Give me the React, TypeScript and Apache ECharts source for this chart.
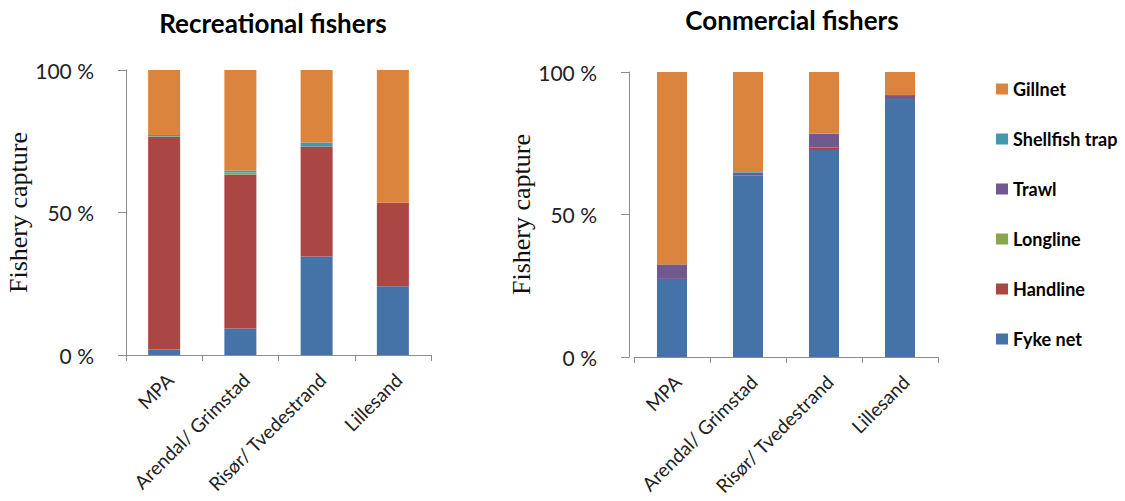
import React, { useEffect, useRef } from "react";
import * as echarts from "echarts";

const categories = ["MPA", "Arendal/ Grimstad", "Risør/ Tvedestrand", "Lillesand"];
const gearTypes = ["Fyke net", "Handline", "Longline", "Trawl", "Shellfish trap", "Gillnet"];
const legendOrder = ["Gillnet", "Shellfish trap", "Trawl", "Longline", "Handline", "Fyke net"];
const gearColors = ["#4572A7", "#AA4643", "#89A54E", "#71588F", "#4198AF", "#DB843D"];

// Recreational fishers (% of capture)
const recFyke = [1.9, 9.3, 34.6, 24.1];
const recHandline = [74.6, 54.0, 38.6, 29.3];
const recLongline = [0.2, 0.7, 0, 0];
const recTrawl = [0, 0, 0, 0];
const recShellfish = [0.5, 0.7, 1.4, 0];
const recGillnet = [22.8, 35.3, 25.4, 46.6];

// Commercial fishers (% of capture)
const comFyke = [27.4, 63.8, 72.6, 90.2];
const comHandline = [0, 0, 0.9, 0];
const comLongline = [0, 0, 0, 0];
const comTrawl = [5.1, 0.9, 4.8, 1.7];
const comShellfish = [0, 0.5, 0, 0];
const comGillnet = [67.5, 34.8, 21.7, 8.1];

const recData = [recFyke, recHandline, recLongline, recTrawl, recShellfish, recGillnet];
const comData = [comFyke, comHandline, comLongline, comTrawl, comShellfish, comGillnet];

const yTickSuffix = " %";

export default function App() {
  const ref = useRef<HTMLDivElement>(null);
  useEffect(() => {
    if (!ref.current) return;
    const chart = echarts.init(ref.current, null, { renderer: "svg" });
    const axisColor = "#8c8c8c";
    const labelFont = "Lato, 'Open Sans', sans-serif";
    const mkX = (gridIndex: number) => ({
      type: "category" as const,
      gridIndex,
      data: categories,
      axisLine: { show: true, lineStyle: { color: axisColor } },
      axisTick: { show: true, alignWithLabel: false, length: 6, lineStyle: { color: axisColor } },
      axisLabel: {
        rotate: 45,
        fontSize: 19,
        color: "#222",
        fontFamily: labelFont,
        margin: 27,
        interval: 0,
        padding: [0, -8, 0, 0],
      },
    });
    const mkY = (gridIndex: number, nameGap: number, offset: number) => ({
      type: "value" as const,
      gridIndex,
      min: 0,
      max: 100,
      interval: 50,
      offset,
      splitLine: { show: false },
      axisLine: { show: true, lineStyle: { color: axisColor } },
      axisTick: { show: true, length: 8, lineStyle: { color: axisColor } },
      axisLabel: {
        formatter: (v: number) => v + yTickSuffix,
        fontSize: 21,
        color: "#222",
        fontFamily: labelFont,
        margin: 32,
      },
      name: "Fishery capture",
      nameLocation: "middle" as const,
      nameRotate: 90,
      nameGap,
      nameTextStyle: { fontFamily: "'Liberation Serif', 'Times New Roman', serif", fontSize: 26, color: "#111" },
    });
    const series: any[] = [];
    gearTypes.forEach((g, i) => {
      series.push({
        name: g,
        type: "bar",
        stack: "rec",
        xAxisIndex: 0,
        yAxisIndex: 0,
        barWidth: 32,
        data: recData[i],
        itemStyle: { color: gearColors[i] },
      });
    });
    gearTypes.forEach((g, i) => {
      series.push({
        name: g,
        type: "bar",
        stack: "com",
        xAxisIndex: 1,
        yAxisIndex: 1,
        barWidth: 30,
        data: comData[i],
        itemStyle: { color: gearColors[i] },
      });
    });
    chart.setOption({
      animation: false,
      title: [
        {
          text: "Recreational fishers",
          left: 273,
          top: 10,
          padding: 0,
          textAlign: "center",
          textStyle: { fontFamily: labelFont, fontSize: 26, fontWeight: "bold", color: "#000" },
        },
        {
          text: "Conmercial fishers",
          left: 792,
          top: 7,
          padding: 0,
          textAlign: "center",
          textStyle: { fontFamily: labelFont, fontSize: 26, fontWeight: "bold", color: "#000" },
        },
      ],
      legend: {
        data: legendOrder,
        orient: "vertical",
        left: 996,
        top: 80,
        padding: 0,
        itemWidth: 12,
        itemHeight: 11,
        itemGap: 32,
        icon: "rect",
        textStyle: { fontFamily: labelFont, fontSize: 18, fontWeight: "bold", color: "#000", lineHeight: 18 },
      },
      grid: [
        { left: 126, top: 70, width: 305, height: 285, outerBoundsMode: "none", containLabel: false },
        { left: 634, top: 72, width: 304, height: 285, outerBoundsMode: "none", containLabel: false },
      ],
      xAxis: [mkX(0), mkX(1)],
      yAxis: [mkY(0, 92, 0), mkY(1, 94, 5)],
      series,
    });
    return () => chart.dispose();
  }, []);
  return (
    <div
      ref={ref}
      style={{ position: "absolute", left: 0, top: 0, width: 1125, height: 501, background: "#fff" }}
    />
  );
}
